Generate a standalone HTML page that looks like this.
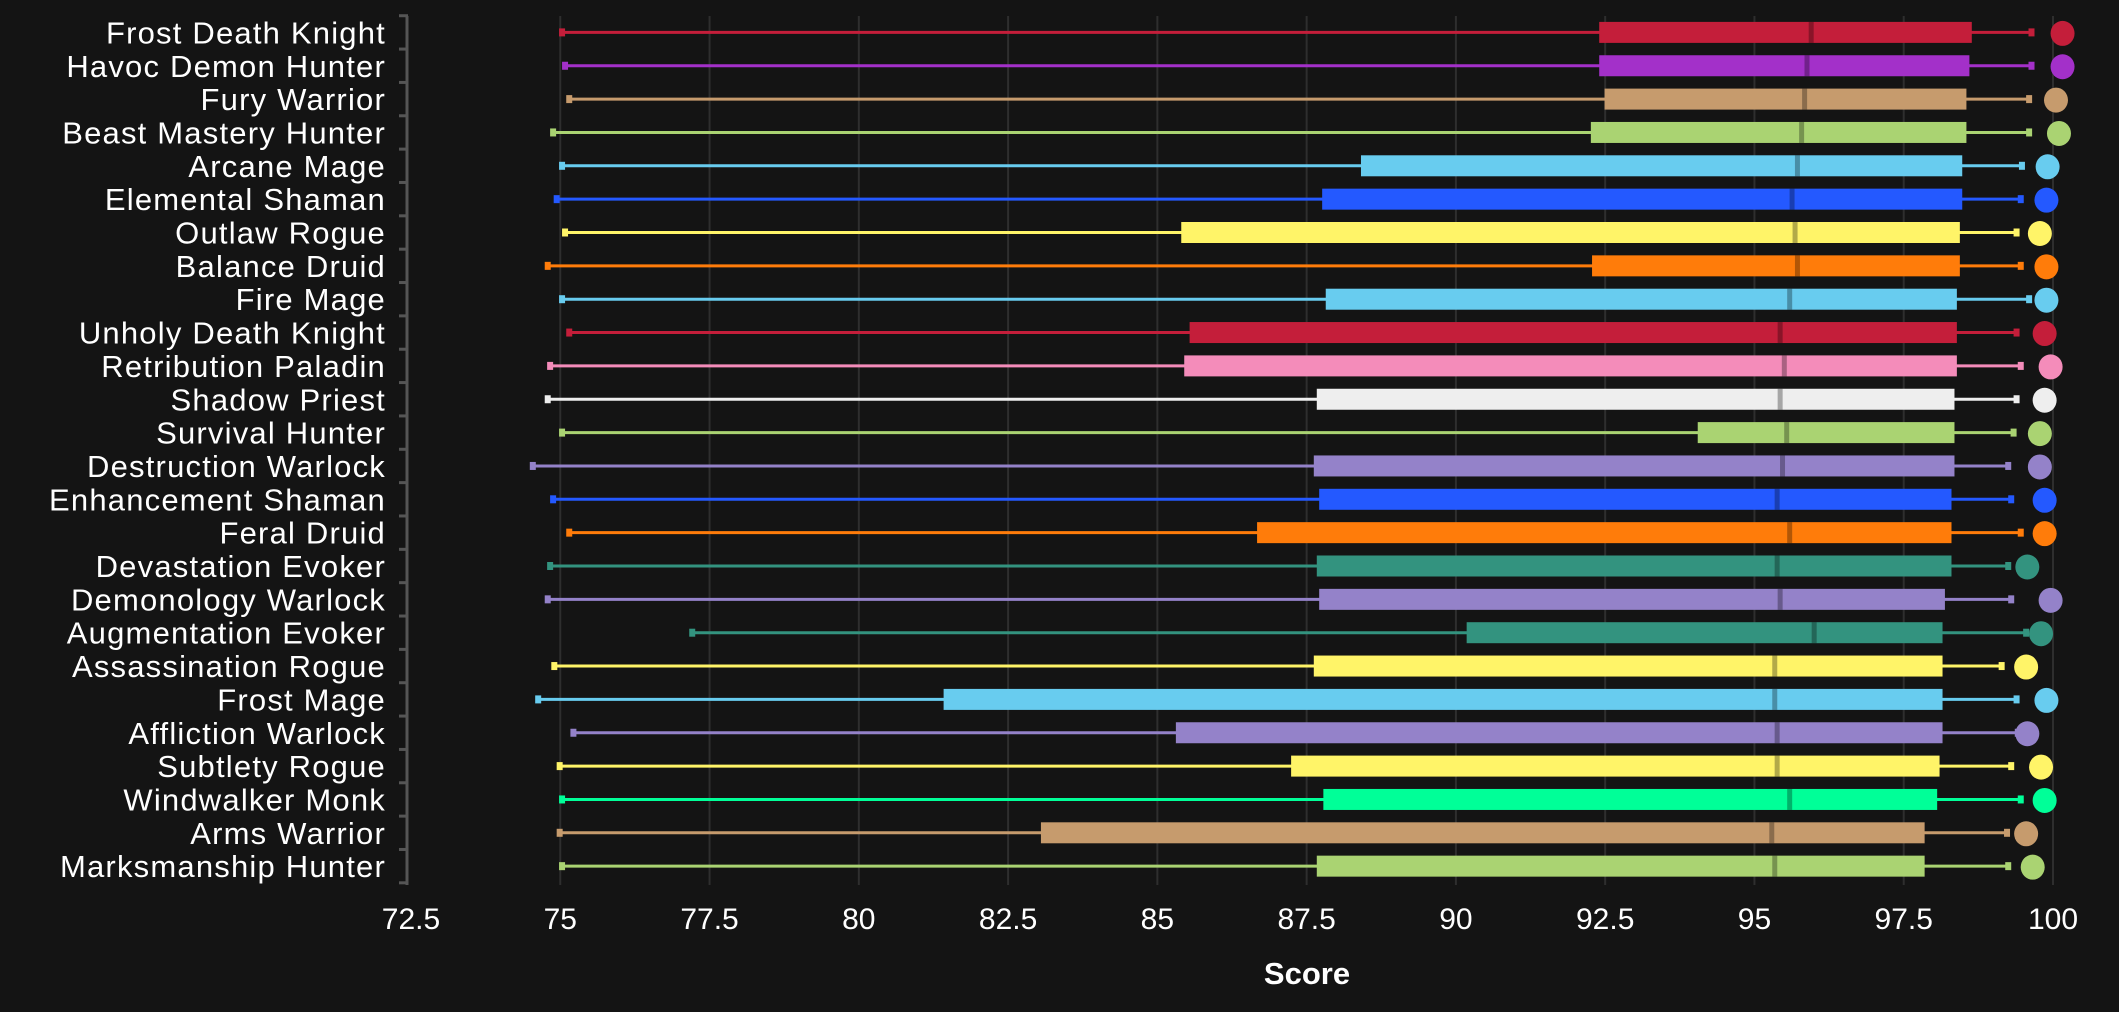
<!DOCTYPE html>
<html><head><meta charset="utf-8"><style>
html,body{margin:0;padding:0;background:#141414;}
svg{display:block;font-family:"Liberation Sans",sans-serif;}
</style></head><body>
<svg id="chart" width="2119" height="1012" viewBox="0 0 2119 1012">
<rect x="0" y="0" width="2119" height="1012" fill="#141414"/>
<g id="grid"></g>
<g id="yaxis"></g>
<g id="marks"></g>
<g id="xaxis"></g>
<text x="1307" y="984" fill="#ffffff" font-size="31" font-weight="bold" text-anchor="middle">Score</text>
</svg>
<script>
const categories = ["Frost Death Knight","Havoc Demon Hunter","Fury Warrior","Beast Mastery Hunter","Arcane Mage","Elemental Shaman","Outlaw Rogue","Balance Druid","Fire Mage","Unholy Death Knight","Retribution Paladin","Shadow Priest","Survival Hunter","Destruction Warlock","Enhancement Shaman","Feral Druid","Devastation Evoker","Demonology Warlock","Augmentation Evoker","Assassination Rogue","Frost Mage","Affliction Warlock","Subtlety Rogue","Windwalker Monk","Arms Warrior","Marksmanship Hunter"];
const colors = ["#c41e3a","#a330c9","#c69b6d","#aad372","#68ccef","#2459ff","#fff468","#ff7c0a","#68ccef","#c41e3a","#f48cba","#eeeeee","#aad372","#9482c9","#2459ff","#ff7c0a","#33937f","#9482c9","#33937f","#fff468","#68ccef","#9482c9","#fff468","#00ff98","#c69b6d","#aad372"];
const mins    = [75.03,75.08,75.15,74.88,75.03,74.94,75.08,74.79,75.03,75.15,74.83,74.79,75.03,74.54,74.88,75.15,74.83,74.79,77.21,74.9,74.63,75.22,74.99,75.03,74.99,75.03];
const q1s     = [92.4,92.4,92.49,92.26,88.41,87.76,85.4,92.28,87.82,85.54,85.45,87.67,94.05,87.62,87.71,86.67,87.67,87.71,90.18,87.62,81.42,85.31,87.24,87.78,83.05,87.67];
const medians = [95.95,95.88,95.84,95.79,95.72,95.63,95.68,95.72,95.59,95.43,95.5,95.43,95.54,95.47,95.38,95.59,95.38,95.43,96.0,95.34,95.34,95.38,95.38,95.59,95.29,95.34];
const q3s     = [98.64,98.6,98.55,98.55,98.48,98.48,98.44,98.44,98.39,98.39,98.39,98.35,98.35,98.35,98.3,98.3,98.3,98.19,98.15,98.15,98.15,98.15,98.1,98.06,97.85,97.85];
const maxs    = [99.64,99.64,99.6,99.6,99.48,99.46,99.39,99.46,99.6,99.39,99.46,99.39,99.34,99.25,99.3,99.46,99.25,99.3,99.55,99.14,99.39,99.41,99.3,99.46,99.23,99.25];
const dots    = [100.16,100.16,100.05,100.1,99.91,99.89,99.78,99.89,99.89,99.86,99.96,99.86,99.78,99.78,99.86,99.86,99.57,99.96,99.8,99.55,99.89,99.57,99.8,99.86,99.55,99.66];
const tickValues = [72.5,75,77.5,80,82.5,85,87.5,90,92.5,95,97.5,100];
const tickLabels = ["72.5","75","77.5","80","82.5","85","87.5","90","92.5","95","97.5","100"];

const NS="http://www.w3.org/2000/svg";
const X0=411, X1=2053, V0=72.5, V1=100;
function xs(v){return X0+(v-V0)/(V1-V0)*(X1-X0);}
const Y0=32.4, ROW=33.35;
function ys(i){return Y0+i*ROW;}
function mk(tag,attrs,parent){const e=document.createElementNS(NS,tag);for(const k in attrs)e.setAttribute(k,attrs[k]);parent.appendChild(e);return e;}
const grid=document.getElementById('grid'),xaxis=document.getElementById('xaxis'),yaxis=document.getElementById('yaxis'),marks=document.getElementById('marks');
const gTop=16, gBot=885;
tickValues.forEach((v,i)=>{
  if(i>0){const l=mk('line',{x1:xs(v),x2:xs(v),y1:gTop,y2:gBot,stroke:'#2e2e2e','stroke-width':2},grid);
  
  }
  const t=mk('text',{x:xs(v),y:929,fill:'#fff','font-size':30,'text-anchor':'middle'},xaxis);
  t.textContent=tickLabels[i];
  
  
});
const ax=mk('line',{x1:407,x2:407,y1:gTop,y2:gBot,stroke:'#555','stroke-width':3},yaxis);


for(let i=0;i<=categories.length;i++){
  const y=ys(i)-ROW/2;
  const tk=mk('line',{x1:399,x2:408,y1:y,y2:y,stroke:'#555','stroke-width':3},yaxis);
  
  
}
categories.forEach((c,i)=>{
  const y=ys(i);
  const t=mk('text',{x:386,y:y+11,fill:'#fff','font-size':31,'letter-spacing':1.2,'text-anchor':'end'},yaxis);
  t.textContent=c;
  
  
  const col=colors[i];
  const g=mk('g',{},marks);
  
  
  const w=mk('line',{x1:xs(mins[i]),x2:xs(maxs[i]),y1:y,y2:y,stroke:col,'stroke-width':3},g);
  
  
  [mins[i],maxs[i]].forEach(v=>{
    const cp=mk('rect',{x:xs(v)-3,y:y-4,width:6,height:8,fill:col},g);
    
    
  });
  const b=mk('rect',{x:xs(q1s[i]),y:y-10.5,width:xs(q3s[i])-xs(q1s[i]),height:21,fill:col},g);
  
  
  const m=mk('rect',{x:xs(medians[i])-2.5,y:y-10.5,width:5,height:21,fill:'#000','fill-opacity':0.3},g);
  
  
  const d=mk('ellipse',{cx:xs(dots[i]),cy:y+1,rx:12,ry:12.5,fill:col},g);
  
  
});
</script>
</body></html>
